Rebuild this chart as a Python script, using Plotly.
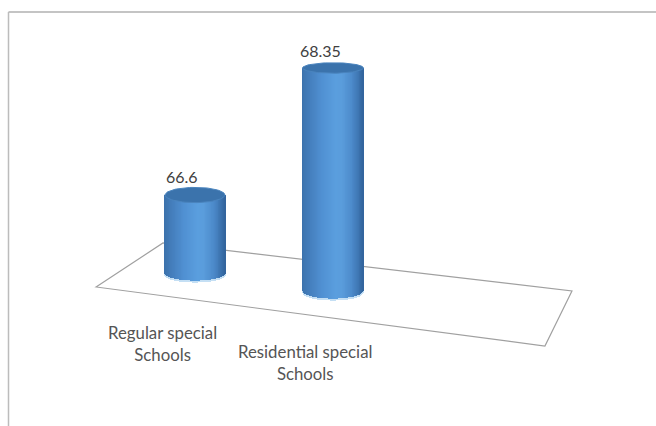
import numpy as np
import plotly.graph_objects as go

categories = ["Regular special<br>Schools", "Residential special<br>Schools"]
values = [66.6, 68.35]
category_pos = [1.0, 2.0]
floor_levels = [65.526, 65.291]      # where each cylinder stands on the tilted floor
cyl_half_width = [0.217, 0.221]
top_half_h = [0.105, 0.072]
bottom_half_h = [0.105, 0.118]
floor_x = [0.283, 0.768, 3.732, 3.536, 0.283]
floor_y = [65.333, 65.939, 65.278, 64.52, 65.333]
label_x = [0.761, 1.797]
label_y = [64.561, 64.286]
value_label_shift = [-0.095, -0.09]
value_label_lift = [-1, 1]

XR = [-0.413, 4.341]
YR = [63.418, 69.286]

stops_t = [-1.0, -0.75, -0.35, 0.1, 0.3, 0.65, 0.9, 1.0]
stops_c = [(60, 114, 172), (68, 126, 188), (80, 144, 210), (90, 158, 222),
           (90, 157, 220), (76, 138, 202), (58, 112, 172), (50, 100, 156)]


def shade(t):
    return "rgb(%d,%d,%d)" % tuple(
        int(round(np.interp(t, stops_t, [c[i] for c in stops_c]))) for i in range(3)
    )


fig = go.Figure()
for cx, v, fl, hw, th, bh, dx, lift in zip(category_pos, values, floor_levels, cyl_half_width,
                                           top_half_h, bottom_half_h, value_label_shift, value_label_lift):
    ts = np.linspace(-0.99, 0.99, 70)
    xs = cx + ts * hw
    bases = fl - bh * np.sqrt(1 - ts ** 2)
    # pale rim under the cylinder
    fig.add_trace(go.Bar(x=xs, y=[0.02] * len(ts), base=bases - 0.02, width=hw * 2 / 70 * 1.4,
                         marker=dict(color="#C4DFF4", line=dict(width=0)), hoverinfo="skip", showlegend=False))
    fig.add_trace(go.Bar(x=xs, y=v - bases, base=bases, width=hw * 2 / 70 * 1.4,
                         marker=dict(color=[shade(t) for t in ts], line=dict(width=0)),
                         hoverinfo="skip", showlegend=False))
    a = np.linspace(0, 2 * np.pi, 80)
    fig.add_trace(go.Scatter(x=cx + hw * np.cos(a), y=v + th * np.sin(a), mode="lines", fill="toself",
                             fillcolor="#3B73AC", line=dict(color="#4A84BE", width=1),
                             hoverinfo="skip", showlegend=False))
    fig.add_annotation(x=cx + dx, y=v + th, yshift=lift, text=str(v), showarrow=False, yanchor="bottom",
                       font=dict(family="Lato", size=16, color="#404040"))

floor_path = "M " + " L ".join(f"{x},{y}" for x, y in zip(floor_x, floor_y)) + " Z"
shapes = [
    dict(type="path", path=floor_path, xref="x", yref="y", layer="below",
         line=dict(color="#a0a0a0", width=1.2), fillcolor="white"),
    dict(type="line", xref="paper", yref="paper", x0=8.5 / 656, x1=1, y0=1 - 12 / 426, y1=1 - 12 / 426,
         line=dict(color="#b0b0b0", width=1.5), layer="below"),
    dict(type="line", xref="paper", yref="paper", x0=8.5 / 656, x1=8.5 / 656, y0=0, y1=1 - 12 / 426,
         line=dict(color="#bcbcbc", width=1.5), layer="below"),
]

for t, lx, ly in zip(categories, label_x, label_y):
    fig.add_annotation(x=lx, y=ly, text=t, showarrow=False, align="center", yanchor="middle",
                       font=dict(family="Lato", size=16.8, color="#555555"))

fig.update_layout(
    width=656, height=426, margin=dict(l=0, r=0, t=0, b=0),
    paper_bgcolor="white", plot_bgcolor="white", barmode="overlay", bargap=0,
    shapes=shapes, showlegend=False,
    xaxis=dict(range=XR, visible=False, fixedrange=True),
    yaxis=dict(range=YR, visible=False, fixedrange=True),
)
fig.write_html("out.html", config={"displayModeBar": False},
               post_script="document.body.style.margin='0';document.documentElement.style.overflow='hidden';")
